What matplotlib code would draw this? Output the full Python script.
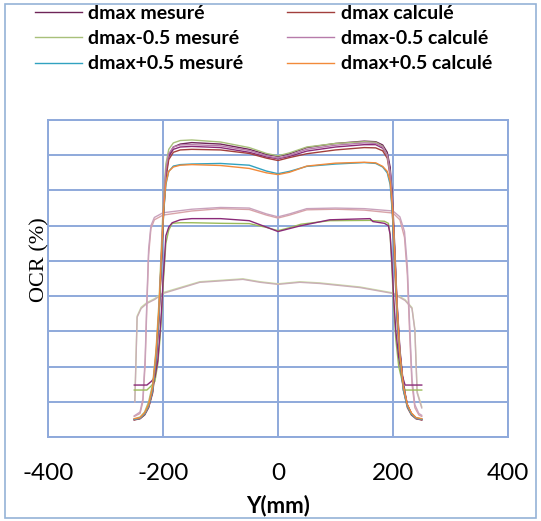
import matplotlib
matplotlib.use("Agg")
import matplotlib.pyplot as plt
from matplotlib.patches import Rectangle

plt.rcParams["font.family"] = ["Lato", "DejaVu Sans"]
plt.rcParams["axes.unicode_minus"] = False

# ---------------------------------------------------------
# Data
# ---------------------------------------------------------
# top group: dmax / dmax-0.5 at standard field
x_top = [-250, -240, -232, -225, -218, -212, -207, -203, -199, -195, -190, -182,
         -170, -150, -100, -50, -20, 0, 20, 50, 100, 150, 170, 182, 190, 195,
         199, 203, 207, 212, 218, 225, 232, 240, 250]

dmax_mes = [6.0, 6.5, 8, 11, 17, 28, 43, 60, 78, 90, 96, 98.8,
            99.8, 100.3, 99.8, 98.0, 96.3, 95.6, 96.5, 98.6, 100.0, 100.8, 100.6, 99.5, 97,
            92, 82, 65, 46, 30, 18, 11, 8, 6.5, 6.0]
dmax_calc = [5.8, 6.2, 7.5, 10, 15, 25, 40, 58, 76, 88, 94.5, 97.0,
             97.8, 98.0, 97.8, 96.6, 95.0, 94.2, 95.2, 96.5, 97.8, 98.6, 98.5, 97.5, 95,
             89, 76, 58, 40, 26, 16, 10, 7.5, 6.2, 5.8]
dmax_m05_mes = [6.2, 6.8, 8.5, 12, 18, 30, 46, 64, 82, 93, 98, 100.2,
                101.0, 101.2, 100.5, 98.6, 96.6, 95.8, 96.8, 98.8, 100.0, 100.6, 100.4, 99.0, 96,
                90, 79, 62, 44, 28, 17, 10.5, 8, 6.6, 6.2]
dmax_m05_calc = [6.0, 6.4, 7.8, 10.5, 16, 27, 42, 61, 80, 91, 96.5, 98.8,
                 99.5, 99.6, 99.2, 97.6, 95.8, 95.0, 96.0, 98.0, 99.4, 100.2, 100.0, 98.8, 96,
                 90, 80, 62, 44, 28, 17, 10.5, 8, 6.4, 6.0]
dmax_extra = [5.9, 6.3, 7.6, 10.2, 15.5, 26, 41, 59, 77, 89, 95.5, 98.0,
              98.8, 99.0, 98.6, 97.0, 95.4, 94.8, 95.6, 97.4, 98.8, 99.6, 99.6, 98.4, 96,
              91, 80, 63, 45, 29, 17.5, 10.8, 8, 6.3, 5.9]
dmax_p05_mes = [6.0, 6.4, 7.8, 10.5, 16, 27, 42, 60, 76, 86, 90.5, 92.3,
                92.8, 93.0, 93.2, 92.6, 90.6, 89.7, 90.5, 92.2, 93.0, 93.5, 93.2, 92.0, 90,
                86, 76, 60, 42, 27, 16, 10.5, 7.8, 6.4, 6.0]
dmax_p05_calc = [6.2, 6.6, 8.2, 11, 17, 29, 44, 61, 77, 86.5, 90.5, 92.0,
                 92.6, 92.8, 92.5, 91.5, 90.0, 89.4, 90.2, 92.3, 93.3, 93.6, 93.4, 92.2, 90.5,
                 87, 78, 62, 44, 28, 17, 11, 8.2, 6.6, 6.2]

# second group (pink pair)
x_pink = [-250, -240, -235, -231, -228, -225, -221, -215, -200, -150, -100, -50,
          -20, 0, 20, 50, 100, 150, 200, 212, 220, 225, 229, 233, 238, 245, 250]
pink_a = [7.0, 8.0, 12, 25, 45, 62, 71, 74, 75.6, 77.0, 77.8, 77.5,
          75.6, 74.6, 75.6, 77.4, 77.6, 77.3, 76.3, 74, 68, 55, 35, 18, 10, 7.5, 7.0]
pink_b = [7.2, 8.5, 13, 27, 47, 64, 72, 74.8, 76.4, 77.6, 78.2, 78.0,
          76.0, 75.0, 76.0, 77.8, 78.0, 77.8, 77.0, 75, 70, 58, 38, 20, 11, 8.0, 7.4]

# third group (purple / green)
x_mid = [-250, -240, -228, -220, -214, -209, -205, -202, -200, -197, -195, -190,
         -184, -170, -150, -100, -50, -20, 0, 20, 40, 90, 160, 165, 185, 192,
         195, 198, 201, 205, 210, 216, 221, 228, 240, 250]
mid_purple = [17.7, 17.7, 17.7, 19, 20.4, 26, 36, 45, 53, 62, 68.6, 71.5,
              73.0, 74.0, 74.4, 74.4, 73.7, 71.5, 70.0, 71.0, 72.0, 74.0, 74.4, 73.4, 72.8, 72,
              69, 60, 48, 36, 27, 21, 17.7, 17.7, 17.7, 17.7]
mid_green = [16.0, 16.0, 16.0, 17.5, 19, 25, 34, 43, 51, 60, 66, 70.5,
             72.8, 73.0, 73.0, 72.8, 72.7, 71.4, 70.3, 71.3, 72.5, 73.7, 73.8, 73.7, 73.5, 72.8,
             69, 58, 45, 33, 24, 19, 16.0, 16.0, 16.0, 16.0]

# lowest group (grey-pink / light green)
x_low = [-249, -247, -245, -238, -228, -214, -200, -136, -61, -31, 0, 38,
         73, 143, 200, 221, 233, 238, 242, 250]
low_a = [11.9, 26, 40.8, 43.8, 45.5, 46.9, 48.9, 52.7, 53.7, 52.7, 52.0, 52.7,
         52.3, 50.9, 48.9, 46.5, 43.8, 36.3, 15, 9.9]
low_b = [12.4, 26.5, 41.2, 44.2, 45.8, 47.2, 49.2, 52.9, 53.9, 52.9, 52.2, 52.9,
         52.5, 51.1, 49.1, 46.8, 44.1, 36.8, 15.5, 10.3]

xticks = [-400, -200, 0, 200, 400]

# ---------------------------------------------------------
# Figure
# ---------------------------------------------------------
fig = plt.figure(figsize=(5.41, 5.21), dpi=100)
ax = fig.add_axes([48 / 541, 1 - 437 / 521, 460 / 541, 317 / 521])

grid_col = "#8EA9DB"
lw = 1.0

# unlabeled series first (drawn underneath)
ax.plot(x_low, low_b, color="#CBDDA8", lw=lw)
ax.plot(x_low, low_a, color="#C9AEB6", lw=lw)
ax.plot(x_pink, pink_a, color="#D8A3A8", lw=lw)
ax.plot(x_pink, pink_b, color="#C9A2BC", lw=lw)
ax.plot(x_mid, mid_green, color="#9BBB59", lw=lw)
ax.plot(x_mid, mid_purple, color="#8A2A78", lw=lw)
ax.plot(x_top, dmax_extra, color="#8A2A78", lw=lw)

h1, = ax.plot(x_top, dmax_mes, color="#6E2458", lw=lw, label="dmax mesuré")
h4, = ax.plot(x_top, dmax_calc, color="#A23F3C", lw=lw, label="dmax calculé")
h2, = ax.plot(x_top, dmax_m05_mes, color="#A8C07A", lw=lw, label="dmax-0.5 mesuré")
h5, = ax.plot(x_top, dmax_m05_calc, color="#B77BAA", lw=lw, label="dmax-0.5 calculé")
h3, = ax.plot(x_top, dmax_p05_mes, color="#31A2C0", lw=lw, label="dmax+0.5 mesuré")
h6, = ax.plot(x_top, dmax_p05_calc, color="#F28A3A", lw=lw, label="dmax+0.5 calculé")

ax.set_xlim(-400, 400)
ax.set_ylim(0, 108)
ax.set_xticks(xticks)
ax.set_yticks(range(0, 109, 12))
ax.set_yticklabels([])
ax.tick_params(axis="both", length=0)
ax.tick_params(axis="x", labelsize=17.5, pad=19)
ax.grid(True, color=grid_col, lw=1.4)
ax.set_axisbelow(True)
for s in ax.spines.values():
    s.set_color(grid_col)
    s.set_linewidth(1.4)

fig.text(278 / 541, 1 - 506 / 521, "Y(mm)", ha="center", va="center",
         fontsize=16, fontweight="bold")
fig.text(40 / 541, 1 - 260 / 521, "OCR (%)", ha="center", va="center",
         rotation=90, fontsize=16, family="Liberation Serif")

fig.legend(handles=[h1, h2, h3, h4, h5, h6], loc="upper left",
           bbox_to_anchor=(35 / 541, 1 - 5 / 521), ncol=2, frameon=False,
           borderpad=0, borderaxespad=0, handlelength=2.4, handletextpad=0.35,
           columnspacing=2.25, labelspacing=0.42,
           prop={"weight": "bold", "size": 14})

# light border round the whole figure
fig.patches.append(Rectangle((5 / 541, 3 / 521), 531 / 541, 514 / 521,
                             transform=fig.transFigure, fill=False,
                             edgecolor="#95B3D7", lw=1.2))

fig.savefig("out.png", dpi=100)
